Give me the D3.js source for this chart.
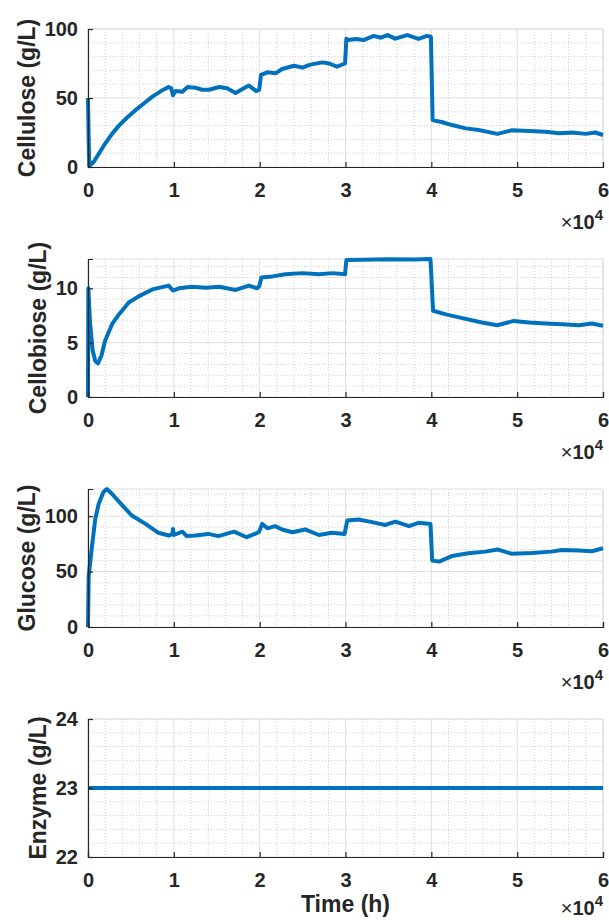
<!DOCTYPE html>
<html>
<head>
<meta charset="utf-8">
<script src="https://cdn.jsdelivr.net/npm/d3@7"></script>
<style>
  body { margin: 0; background: #fff; }
  text { font-family: "Liberation Sans", Arial, sans-serif; font-weight: bold; fill: #262626; }
</style>
</head>
<body>
<svg id="chart" width="609" height="920"></svg>
<script>
// time values (raw, axis shown as x10^4)
var celluloseTime = [0, 80, 150, 470, 700, 1050, 1500, 2000, 2800, 3600, 4500, 5500, 6500, 7500, 8500, 9400, 9700, 9900, 10200, 11000, 11600, 12500, 13300, 14100, 15300, 16200, 17200, 18000, 18750, 19600, 19950, 20150, 20900, 21900, 22600, 24000, 25000, 25800, 27300, 28100, 29000, 29950, 30100, 30300, 31200, 32100, 33300, 34100, 34900, 35800, 37200, 38500, 39500, 39950, 40150, 41300, 42400, 44000, 45500, 47700, 49400, 51400, 53300, 54900, 56400, 58000, 59100, 60000];
var cellulose = [50, 20, 1, 2.5, 4, 7.5, 12, 17, 24, 30, 35.5, 41, 46, 51, 55, 58, 57, 52, 55, 54.6, 58, 57.5, 56, 56, 58, 57, 53.6, 56.5, 59, 55, 56, 66.7, 68.6, 68, 71, 73.4, 72, 74, 75.8, 75, 72.7, 75, 93, 92, 92.8, 92, 95, 93.7, 95.6, 93, 95.6, 92.8, 95, 94.4, 34, 32.4, 30.4, 28, 26.8, 24, 26.6, 26, 25.6, 24.4, 25, 24, 25, 23.2];

var cellobioseTime = [0, 40, 230, 540, 850, 1170, 1560, 2000, 2800, 3600, 4750, 5900, 7500, 9400, 9900, 10600, 12100, 13700, 15300, 17200, 18750, 19700, 19950, 20200, 21500, 23000, 25000, 26900, 28500, 29950, 30100, 32000, 35000, 38000, 39900, 40200, 41700, 43600, 45900, 47700, 49600, 51400, 53300, 55200, 57200, 58700, 60000];
var cellobiose = [0, 10, 6.9, 4.3, 3.3, 3.1, 3.8, 5.2, 6.7, 7.6, 8.7, 9.26, 9.9, 10.25, 9.8, 10, 10.15, 10.06, 10.15, 9.85, 10.25, 10, 10.2, 11, 11.1, 11.3, 11.4, 11.3, 11.4, 11.3, 12.6, 12.62, 12.68, 12.65, 12.7, 7.94, 7.6, 7.26, 6.86, 6.6, 7.0, 6.86, 6.77, 6.7, 6.6, 6.77, 6.55];

var glucoseTime = [0, 80, 470, 850, 1240, 1800, 2200, 2800, 4000, 5100, 6700, 8200, 9400, 9850, 9900, 10000, 11000, 11500, 12500, 14000, 15200, 17000, 18500, 19900, 20300, 20900, 21800, 22600, 23800, 25300, 26900, 28400, 29900, 30200, 31500, 33100, 34600, 35800, 37400, 38500, 39900, 40100, 40900, 42400, 44300, 46300, 47700, 49400, 51700, 54000, 55200, 57200, 58700, 60000];
var glucose = [0, 46, 73, 97.6, 111, 121.7, 124.5, 120, 109.7, 100.6, 93, 85, 82.5, 84, 88.5, 83, 86, 82, 82.5, 84, 82, 86, 81, 85.5, 93, 89, 91, 88, 85.5, 88, 83, 85, 84, 96, 97, 94.6, 92, 95, 91, 94, 93, 60, 59, 64, 66.5, 68, 70, 66, 66.8, 68, 69.5, 69, 68.3, 71];

var enzymeTime = [0, 60000];
var enzyme = [23, 23];

var labels = ["Cellulose (g/L)", "Cellobiose (g/L)", "Glucose (g/L)", "Enzyme (g/L)"];
var yDomains = [[0, 100], [0, 12.7], [0, 124.5], [22, 24]];
var yTicks = [[0, 50, 100], [0, 5, 10], [0, 50, 100], [22, 23, 24]];
var yMinorStep = [10, 1, 10, 0.2];
var xTicks = [0, 10000, 20000, 30000, 40000, 50000, 60000];

var series = [
  [celluloseTime, cellulose],
  [cellobioseTime, cellobiose],
  [glucoseTime, glucose],
  [enzymeTime, enzyme]
];

var svg = d3.select("#chart");
var left = 88, right = 603;
var tops = [29, 259, 489, 719];
var ph = 138;
var lineColor = "#0072BD";
var tickFont = "20px", labelFont = "23px";

var x = d3.scaleLinear().domain([0, 60000]).range([left, right]);

series.forEach(function(s, i) {
  var top = tops[i], bottom = top + ph;
  var y = d3.scaleLinear().domain(yDomains[i]).range([bottom, top]);
  var g = svg.append("g");

  // minor grid
  var xMinor = d3.range(0, 60001, 2000).filter(function(v) { return v % 10000 != 0; });
  var d0 = yDomains[i][0], d1 = yDomains[i][1], st = yMinorStep[i];
  var yMinor = [];
  for (var k = 1; d0 + k * st < d1 + 1e-9; k++) {
    var v = +(d0 + k * st).toFixed(4);
    if (yTicks[i].indexOf(v) < 0) yMinor.push(v);
  }

  g.selectAll(".xminor").data(xMinor).enter().append("line")
    .attr("x1", function(d) { return x(d); }).attr("x2", function(d) { return x(d); })
    .attr("y1", top).attr("y2", bottom)
    .attr("stroke", "#c4c4c4").attr("stroke-width", 0.8).attr("stroke-dasharray", "1,2");
  g.selectAll(".yminor").data(yMinor).enter().append("line")
    .attr("x1", left).attr("x2", right)
    .attr("y1", function(d) { return y(d); }).attr("y2", function(d) { return y(d); })
    .attr("stroke", "#c4c4c4").attr("stroke-width", 0.8).attr("stroke-dasharray", "1,2");

  // major grid
  g.selectAll(".xmajor").data(xTicks).enter().append("line")
    .attr("x1", function(d) { return x(d); }).attr("x2", function(d) { return x(d); })
    .attr("y1", top).attr("y2", bottom)
    .attr("stroke", "#dedede").attr("stroke-width", 1);
  g.selectAll(".ymajor").data(yTicks[i]).enter().append("line")
    .attr("x1", left).attr("x2", right)
    .attr("y1", function(d) { return y(d); }).attr("y2", function(d) { return y(d); })
    .attr("stroke", "#dedede").attr("stroke-width", 1);

  // light top / right edges
  g.append("line").attr("x1", left).attr("x2", right).attr("y1", top).attr("y2", top)
    .attr("stroke", "#dedede");
  g.append("line").attr("x1", right).attr("x2", right).attr("y1", top).attr("y2", bottom)
    .attr("stroke", "#dedede");

  // data line
  var pts = s[0].map(function(t, j) { return [t, s[1][j]]; });
  g.append("path")
    .datum(pts)
    .attr("d", d3.line().x(function(d) { return x(d[0]); }).y(function(d) { return y(d[1]); }))
    .attr("fill", "none")
    .attr("stroke", lineColor)
    .attr("stroke-width", 4)
    .attr("stroke-linejoin", "round");

  // axes
  var xAxis = d3.axisBottom(x).tickValues(xTicks).tickSize(-5).tickPadding(16)
    .tickFormat(function(d) { return d / 10000; });
  var gx = g.append("g").attr("transform", "translate(0," + bottom + ")").call(xAxis);
  var yAxis = d3.axisLeft(y).tickValues(yTicks[i]).tickSize(-5).tickPadding(10)
    .tickFormat(d3.format("d"));
  var gy = g.append("g").attr("transform", "translate(" + left + ",0)").call(yAxis);

  [gx, gy].forEach(function(a) {
    a.select(".domain").attr("stroke", "#262626").attr("stroke-width", 1.2);
    a.selectAll(".tick line").attr("stroke", "#262626").attr("stroke-width", 1.2);
    a.selectAll(".tick text").style("font-size", tickFont)
      .style("font-family", "'Liberation Sans', Arial, sans-serif")
      .style("font-weight", "bold").attr("fill", "#262626");
  });

  // y label next to tick labels
  var minX = d3.min(gy.selectAll(".tick text").nodes(), function(n) { return n.getBBox().x; }) + left;
  g.append("text")
    .attr("transform", "translate(" + (minX - 10) + "," + (top + ph / 2) + ") rotate(-90)")
    .attr("text-anchor", "middle")
    .style("font-size", labelFont)
    .text(labels[i]);

  // exponent
  var ex = g.append("text")
    .attr("x", right).attr("y", Math.min(bottom + 62, 915))
    .attr("text-anchor", "end")
    .style("font-size", tickFont);
  ex.append("tspan").style("font-weight", "normal").text("\u00d7");
  ex.append("tspan").text("10");
  ex.append("tspan").attr("dy", -9).style("font-size", "15px").text("4");
});

svg.append("text")
  .attr("x", (left + right) / 2).attr("y", 912)
  .attr("text-anchor", "middle")
  .style("font-size", labelFont)
  .text("Time (h)");
</script>
</body>
</html>
